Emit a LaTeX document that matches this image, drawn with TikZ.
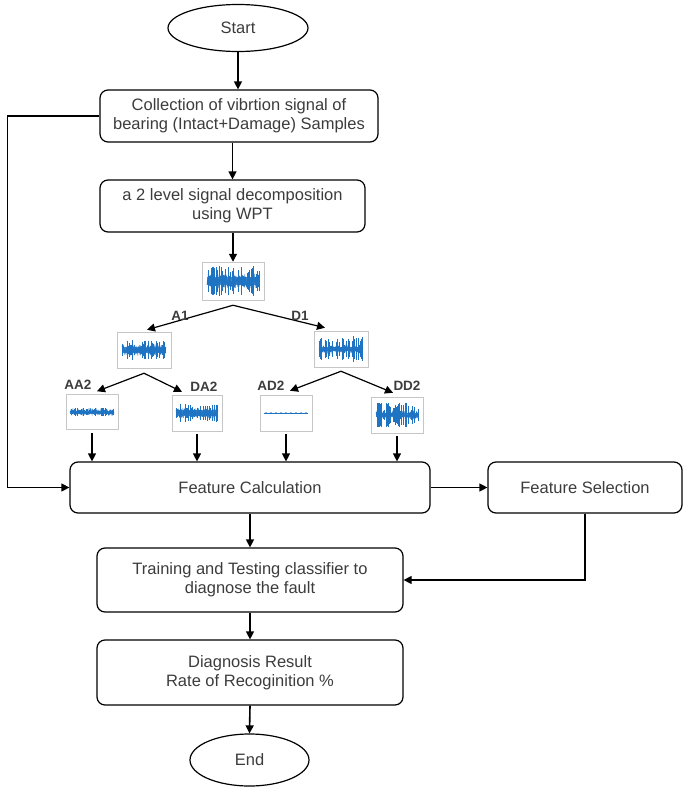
\documentclass[tikz,border=0pt]{standalone}
\usepackage{fontspec}
\setmainfont{Liberation Sans}
\usetikzlibrary{arrows.meta,shapes.geometric}
\definecolor{sigblue}{RGB}{30,115,195}
\definecolor{txt}{RGB}{60,60,60}
\newcommand\noisesig[5]{% node, halfwidth, band amplitude, spike amplitude, samples
  \begin{scope}[shift={(#1.center)}]
    \fill[sigblue!85] (-#2,-#3*0.6) rectangle (#2,#3*0.6);
    \draw[sigblue, line width=0.45pt] plot[domain=-#2:#2, samples=#5] (\x,{#3*rand});
    \foreach \k in {1,...,55}{
      \pgfmathsetmacro\xx{-#2+2*#2*rnd}
      \pgfmathsetmacro\hh{#4*rnd}
      \draw[sigblue, line width=0.4pt] (\xx,-\hh) -- (\xx,\hh);
    }
  \end{scope}}
\begin{document}
\begin{tikzpicture}[x=1pt,y=-1pt,
  line width=1.2pt,
  arr/.style={-{Triangle[length=8pt,width=8pt]}, line width=1.2pt},
  box/.style={draw, rounded corners=8pt, align=center, inner sep=0pt,
    font=\fontsize{16.5}{19}\selectfont, text=txt, line width=1.2pt},
  term/.style={draw, ellipse, inner sep=0pt, font=\fontsize{16.5}{19}\selectfont, text=txt, line width=1.2pt},
  sig/.style={draw=gray!45, line width=0.5pt, inner sep=0pt},
  lab/.style={font=\fontsize{13.5}{15}\selectfont\bfseries, text=txt, inner sep=0pt}]
\pgfmathsetseed{4242}
\useasboundingbox (0,0) rectangle (685,790);

\node[term, minimum width=140pt, minimum height=47pt] (start) at (238,28) {Start};
\node[box, minimum width=278pt, minimum height=52pt] (coll) at (239,116)
  {Collection of vibrtion signal of\\bearing (Intact+Damage) Samples};
\node[box, minimum width=265pt, minimum height=52pt] (dec) at (232.5,206)
  {a 2 level signal decomposition\\using WPT};

% signal images
\node[sig, minimum width=62pt, minimum height=38pt] (s0) at (233,281) {};
\node[sig, minimum width=54pt, minimum height=36pt] (sA1) at (144,350) {};
\node[sig, minimum width=54pt, minimum height=36pt] (sD1) at (341,349) {};
\node[sig, minimum width=52pt, minimum height=35pt] (sAA2) at (92,412) {};
\node[sig, minimum width=50pt, minimum height=36pt] (sDA2) at (197,413) {};
\node[sig, minimum width=52pt, minimum height=36pt] (sAD2) at (286,413) {};
\node[sig, minimum width=52pt, minimum height=36pt] (sDD2) at (397,415) {};

\noisesig{s0}{26}{7}{15}{260}
\noisesig{sA1}{22}{5}{10}{220}
\noisesig{sD1}{22}{3.5}{13}{220}
\noisesig{sAA2}{22}{2.5}{4}{200}
\noisesig{sDA2}{21}{5}{9}{220}
\noisesig{sDD2}{21}{4}{13}{220}
\begin{scope}[shift={(sAD2.center)}]
  \draw[sigblue, line width=0.7pt] (-22,0) -- (22,0);
  \foreach \i in {-20,-15,...,20} \fill[sigblue] (\i,0) circle (0.8pt);
\end{scope}

\node[box, minimum width=360pt, minimum height=51pt] (fc) at (250,487.5) {Feature Calculation};
\node[box, minimum width=194pt, minimum height=51pt] (fs) at (585,487.5) {Feature Selection};
\node[box, minimum width=306pt, minimum height=64pt] (train) at (250,580)
  {Training and Testing classifier to\\diagnose the fault};
\node[box, minimum width=306pt, minimum height=65pt] (diag) at (250,672.5)
  {Diagnosis Result\\Rate of Recoginition \%};
\node[term, minimum width=119pt, minimum height=52pt] (end) at (249.5,760) {End};

% tree points
\coordinate (p0) at ([yshift=-5pt]s0.south);
\coordinate (pA) at ([yshift=-5pt]sA1.south);
\coordinate (pD) at ([yshift=-4pt]sD1.south);

% connectors
\draw[arr] (start.south) -- (coll.north -| start.south);
\draw[arr] (coll.south -| dec.north) -- (dec.north);
\draw[arr] (dec.south -| s0.north) -- (s0.north);
\draw[arr] (p0) -- ([xshift=3pt,yshift=2pt]sA1.north);
\draw[arr] (p0) -- ([xshift=-16pt,yshift=3pt]sD1.north);
\draw[arr] (pA) -- ([xshift=5pt,yshift=3pt]sAA2.north);
\draw[arr] (pA) -- ([xshift=-15pt,yshift=3pt]sDA2.north);
\draw[arr] (pD) -- ([xshift=4pt,yshift=4pt]sAD2.north);
\draw[arr] (pD) -- ([xshift=-4pt,yshift=4pt]sDD2.north);
\node[lab] (lA1) at (180,316) {A1};
\node[lab] (lD1) at (300,316) {D1};
\node[lab] (lAA2) at (78,385) {AA2};
\node[lab] (lDA2) at (204,387) {DA2};
\node[lab] (lAD2) at (271,386) {AD2};
\node[lab] (lDD2) at (407,386) {DD2};

\draw[arr] ([yshift=-3pt]sAA2.south) -- (fc.north -| sAA2.south);
\draw[arr] ([yshift=-3pt]sDA2.south) -- (fc.north -| sDA2.south);
\draw[arr] ([yshift=-3pt]sAD2.south) -- (fc.north -| sAD2.south);
\draw[arr] ([yshift=-3pt]sDD2.south) -- (fc.north -| sDD2.south);

\draw[arr] (coll.west) -- ++(-92,0) |- (fc.west);
\draw[arr] (fc.east) -- (fs.west);
\draw[arr] (fs.south) |- (train.east);
\draw[arr] (fc.south) -- (train.north);
\draw[arr] (train.south) -- (diag.north);
\draw[arr, line width=1.6pt] (diag.south) -- (end.north);
\end{tikzpicture}
\end{document}
